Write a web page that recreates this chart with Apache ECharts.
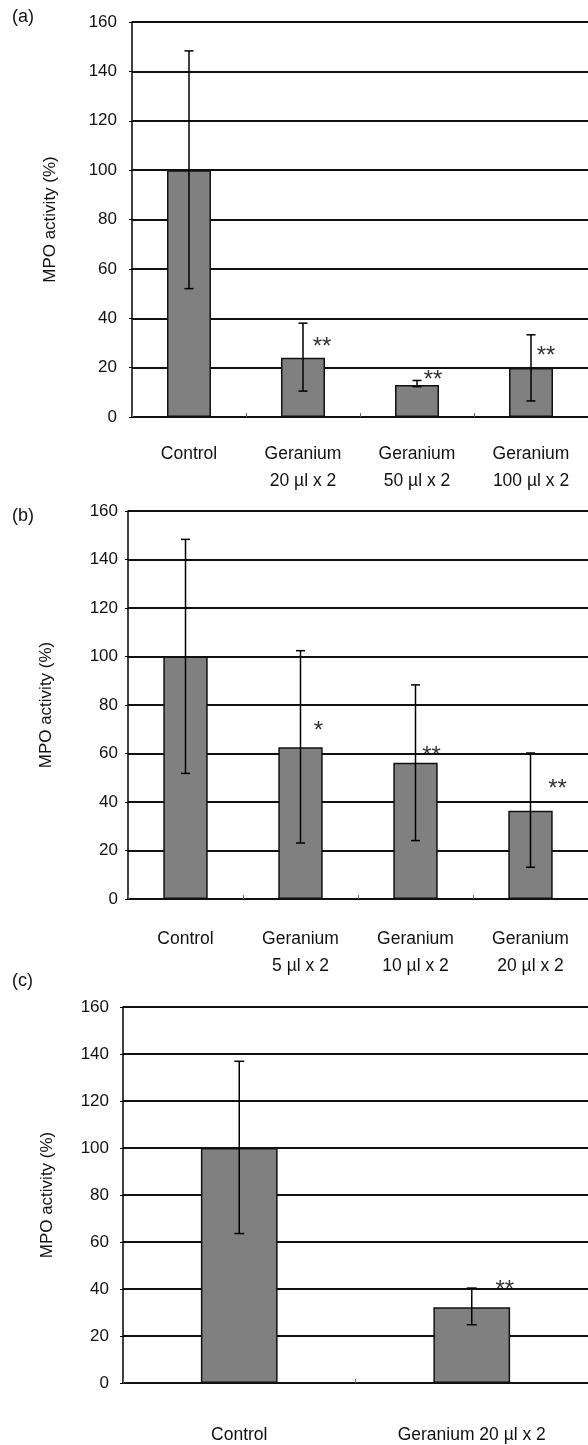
<!DOCTYPE html>
<html><head><meta charset="utf-8">
<script src="https://cdn.jsdelivr.net/npm/echarts@6/dist/echarts.min.js"></script>
<style>html,body{margin:0;padding:0;background:#fff}#c{width:588px;height:1445px}</style>
</head><body><div id="c"></div>
<script>
// Panel (a)
const catsA = ['Control', 'Geranium\n20 µl x 2', 'Geranium\n50 µl x 2', 'Geranium\n100 µl x 2'];
const meanA = [100, 24, 13, 19.8];
const lowA = [52, 10.5, 12.3, 6.5];
const highA = [148.3, 38, 14.8, 33.3];
const starsA = ['', '**', '**', '**'];
const starYA = [null, 30.3, 17, 26.7];
// Panel (b)
const catsB = ['Control', 'Geranium\n5 µl x 2', 'Geranium\n10 µl x 2', 'Geranium\n20 µl x 2'];
const meanB = [100, 62.6, 56.2, 36.4];
const lowB = [51.8, 23.1, 24.1, 13.1];
const highB = [148.3, 102.4, 88.3, 60.2];
const starsB = ['', '*', '**', '**'];
const starYB = [null, 71, 60.7, 47.4];
// Panel (c)
const catsC = ['Control', 'Geranium 20 µl x 2'];
const meanC = [100, 32.2];
const lowC = [63.6, 24.8];
const highC = [136.9, 40.4];
const starsC = ['', '**'];
const starYC = [null, 41.6];
// Y axis ticks
const yMin = 0, yMax = 160, yStep = 20;

const FONT = 'Liberation Sans, Arial, sans-serif';
const chart = echarts.init(document.getElementById('c'), null, {renderer: 'canvas'});

function errSeries(idx, low, high, hw) {
  return {
    type: 'custom', xAxisIndex: idx, yAxisIndex: idx, z: 5,
    data: low.map((l, i) => [i, l, high[i]]),
    renderItem: function (params, api) {
      const x = api.value(0);
      const lo = api.coord([x, api.value(1)]);
      const hi = api.coord([x, api.value(2)]);
      const st = {stroke: '#000', lineWidth: 1.5};
      return {type: 'group', children: [
        {type: 'line', shape: {x1: lo[0], y1: lo[1], x2: hi[0], y2: hi[1]}, style: st},
        {type: 'line', shape: {x1: hi[0] - hw, y1: hi[1], x2: hi[0] + hw, y2: hi[1]}, style: st},
        {type: 'line', shape: {x1: lo[0] - hw, y1: lo[1], x2: lo[0] + hw, y2: lo[1]}, style: st}
      ]};
    }
  };
}
function starSeries(idx, stars, starY, dx) {
  const data = [];
  starY.forEach((v, i) => { if (v != null) data.push([i, v]); });
  return {
    type: 'custom', xAxisIndex: idx, yAxisIndex: idx, z: -1,
    data: data,
    renderItem: function (params, api) {
      const i = api.value(0);
      const p = api.coord([i, api.value(1)]);
      return {type: 'text', style: {text: stars[i], x: p[0] + dx[i], y: p[1] + 5,
        align: 'center', verticalAlign: 'middle', font: '24px ' + FONT, fill: '#333'}};
    }
  };
}
function barSeries(idx, data, bw) {
  return {type: 'bar', xAxisIndex: idx, yAxisIndex: idx, data: data, barWidth: bw, z: 3,
    itemStyle: {color: '#808080', borderColor: '#111', borderWidth: 1.5}};
}
function xAxis(idx, cats, margin, lh) {
  return {type: 'category', gridIndex: idx, data: cats,
    axisLine: {lineStyle: {color: '#111', width: 2}},
    axisTick: {show: true, inside: true, length: 4, lineStyle: {color: '#666', width: 1}},
    axisLabel: {margin: margin, color: '#111', fontSize: 17.5, fontFamily: FONT, lineHeight: lh, interval: 0},
    splitLine: {show: false}};
}
function yAxis(idx, gap, lm) {
  return {type: 'value', gridIndex: idx, min: yMin, max: yMax, interval: yStep,
    name: 'MPO activity (%)', nameLocation: 'middle', nameGap: gap, nameRotate: 90,
    nameTextStyle: {color: '#111', fontSize: 17, fontFamily: FONT},
    axisLine: {show: true, lineStyle: {color: '#000', width: 1.5}},
    axisTick: {show: true, length: 3, lineStyle: {color: '#000'}},
    axisLabel: {margin: lm, color: '#111', fontSize: 17, fontFamily: FONT},
    splitLine: {show: true, lineStyle: {color: '#111', width: 2}}};
}

chart.setOption({
  animation: false,
  backgroundColor: '#fff',
  graphic: [
    {type: 'text', left: 12, top: 8, style: {text: '(a)', font: '18px ' + FONT, fill: '#111'}},
    {type: 'text', left: 12, top: 507, style: {text: '(b)', font: '18px ' + FONT, fill: '#111'}},
    {type: 'text', left: 12, top: 972, style: {text: '(c)', font: '18px ' + FONT, fill: '#111'}}
  ],
  grid: [
    {left: 132, top: 22, width: 466, height: 395},
    {left: 128, top: 511, width: 468, height: 388},
    {left: 123, top: 1007, width: 468, height: 376}
  ],
  xAxis: [xAxis(0, catsA, 24, 27), xAxis(1, catsB, 27, 27), xAxis(2, catsC, 42, 20)],
  yAxis: [yAxis(0, 73, 15), yAxis(1, 73, 10), yAxis(2, 67, 14)],
  series: [
    barSeries(0, meanA, '38.6%'), errSeries(0, lowA, highA, 4.5), starSeries(0, starsA, starYA, [0, 19, 16, 15]),
    barSeries(1, meanB, '38.6%'), errSeries(1, lowB, highB, 4.5), starSeries(1, starsB, starYB, [0, 18, 16, 27]),
    barSeries(2, meanC, '33%'), errSeries(2, lowC, highC, 5), starSeries(2, starsC, starYC, [0, 33])
  ]
});
</script></body></html>
